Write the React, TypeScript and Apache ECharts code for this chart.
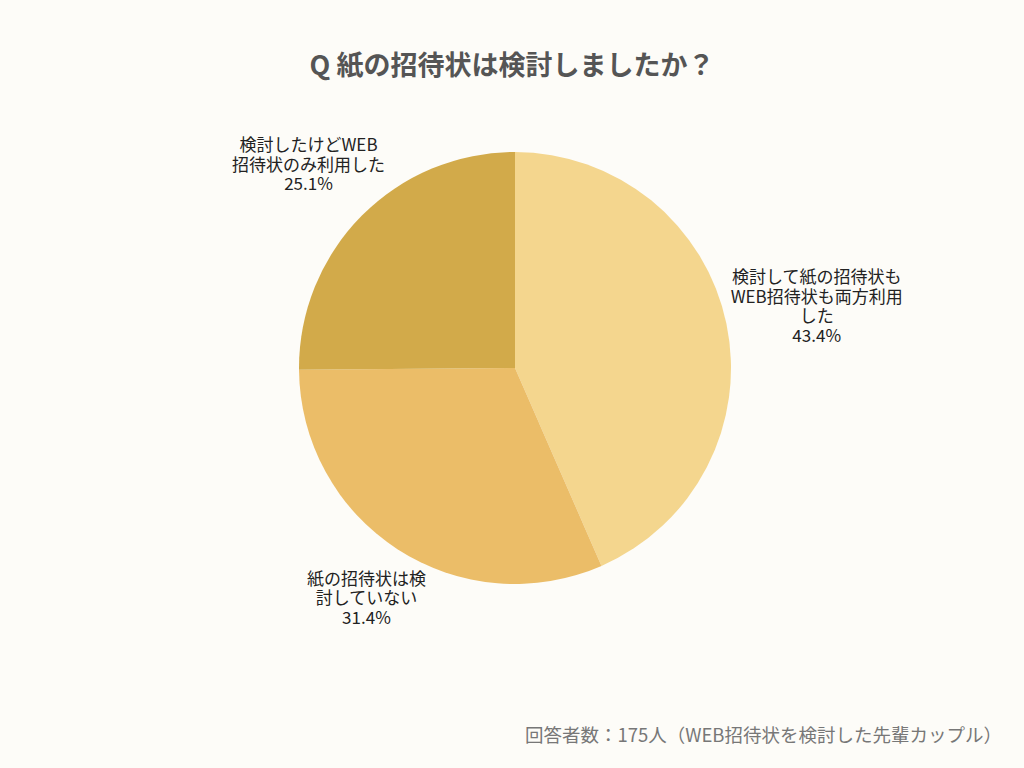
import { useEffect, useRef } from 'react'
import * as echarts from 'echarts'

const TITLE = 'Q 紙の招待状は検討しましたか？'
const NOTE = '回答者数：175人（WEB招待状を検討した先輩カップル）'

const categories = [
  '検討して紙の招待状もWEB招待状も両方利用した',
  '紙の招待状は検討していない',
  '検討したけどWEB招待状のみ利用した',
]
// the same names, broken into lines as the labels show them
const labelLines = [
  ['検討して紙の招待状も', 'WEB招待状も両方利用', 'した'],
  ['紙の招待状は検', '討していない'],
  ['検討したけどWEB', '招待状のみ利用した'],
]
const shares = [43.4, 31.4, 25.1]
const colors = ['#F4D68E', '#EBBD68', '#D2AA4A']

const CX = 515
const CY = 368
const R = 216

export default function App() {
  const containerRef = useRef<HTMLDivElement>(null)

  useEffect(() => {
    document.body.style.margin = '0'
    if (!containerRef.current) return

    const chart = echarts.init(containerRef.current, null, { renderer: 'svg' })
    const total = shares.reduce((a, b) => a + b, 0)

    // put each label just outside the pie along its slice's middle angle
    const placeLabel = (params: any) => {
      const i = params.dataIndex
      let before = 0
      for (let k = 0; k < i; k++) before += shares[k]
      const mid = ((before + shares[i] / 2) / total) * Math.PI * 2
      const dx = Math.sin(mid)
      const dy = -Math.cos(mid)
      const w = params.labelRect.width / 2
      const h = params.labelRect.height / 2
      const dist = R + w * Math.abs(dx) + h * Math.abs(dy)
      return {
        x: CX + dist * dx,
        y: CY + dist * dy,
        align: 'center',
        verticalAlign: 'middle',
      }
    }

    const option = {
      animation: false,
      backgroundColor: '#FDFCF8',
      textStyle: { fontFamily: '"Noto Sans CJK JP", "Noto Sans", sans-serif' },
      title: [
        {
          text: TITLE,
          left: 'center',
          top: 45,
          textStyle: { fontSize: 27, fontWeight: 'bold', color: '#555555' },
        },
        {
          text: NOTE,
          right: 17,
          top: 720,
          textStyle: { fontSize: 18.5, fontWeight: 'normal', color: '#777777' },
        },
      ],
      series: [
        {
          type: 'pie',
          center: [CX, CY],
          radius: R,
          startAngle: 90,
          clockwise: true,
          color: colors,
          data: categories.map((name, i) => ({ name, value: shares[i] })),
          label: {
            show: true,
            position: 'outside',
            color: '#222222',
            fontSize: 17,
            lineHeight: 19.5,
            formatter: (p: any) =>
              [...labelLines[p.dataIndex], `${shares[p.dataIndex].toFixed(1)}%`].join('\n'),
          },
          labelLine: { show: false },
          labelLayout: placeLabel,
          emphasis: { disabled: true },
        },
      ],
    }

    chart.setOption(option)

    const handleResize = () => chart.resize()
    window.addEventListener('resize', handleResize)

    return () => {
      window.removeEventListener('resize', handleResize)
      chart.dispose()
    }
  }, [])

  return <div ref={containerRef} style={{ width: '1024px', height: '768px' }} />
}
